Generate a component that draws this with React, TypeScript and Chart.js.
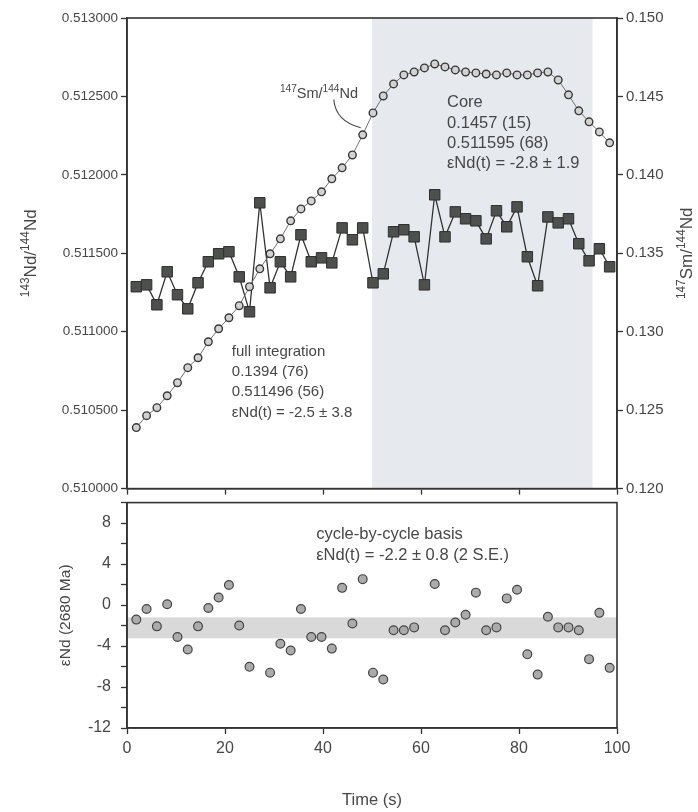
import React, { useEffect, useRef } from "react";
import { Chart, registerables } from "chart.js";

Chart.register(...registerables);

const FONT = '"Liberation Sans", Arial, Helvetica, sans-serif';
const TEXT = "#474747";
const AXIS = "#333333";

// ---- data ----
const TIME_S = [1.9, 4.0, 6.1, 8.2, 10.3, 12.4, 14.5, 16.6, 18.7, 20.8, 22.9, 25.0, 27.1, 29.2, 31.3, 33.4, 35.5, 37.6, 39.7, 41.8, 43.9, 46.0, 48.1, 50.2, 52.3, 54.4, 56.5, 58.6, 60.7, 62.8, 64.9, 67.0, 69.1, 71.2, 73.3, 75.4, 77.5, 79.6, 81.7, 83.8, 85.9, 88.0, 90.1, 92.2, 94.3, 96.4, 98.5];

const ND_143_144 = [0.511287, 0.511299, 0.511172, 0.511382, 0.511236, 0.511146, 0.511312, 0.511446, 0.511497, 0.51151, 0.51135, 0.511127, 0.511822, 0.51128, 0.511446, 0.51135, 0.511618, 0.511446, 0.511471, 0.511439, 0.511662, 0.511586, 0.511662, 0.511312, 0.511369, 0.511637, 0.51165, 0.511605, 0.511299, 0.511873, 0.511605, 0.511764, 0.51172, 0.511707, 0.511592, 0.511771, 0.511669, 0.511796, 0.511478, 0.511293, 0.511732, 0.511694, 0.51172, 0.511561, 0.511452, 0.511529, 0.511414];

const SM_147_ND_144 = [0.12389, 0.12465, 0.12516, 0.12592, 0.12675, 0.12771, 0.12834, 0.12936, 0.13019, 0.13089, 0.13166, 0.13287, 0.13401, 0.13497, 0.13592, 0.13707, 0.13783, 0.13834, 0.13892, 0.13975, 0.14045, 0.14127, 0.14255, 0.14395, 0.14503, 0.1458, 0.14637, 0.14656, 0.14682, 0.14707, 0.14688, 0.14669, 0.14656, 0.1465, 0.14643, 0.14637, 0.1465, 0.14637, 0.14637, 0.1465, 0.14656, 0.14605, 0.1451, 0.14408, 0.14338, 0.14274, 0.14204];

const EPS_ND = [-1.42, -0.39, -2.08, 0.08, -3.12, -4.34, -2.08, -0.29, 0.74, 1.96, -1.99, -6.03, null, -6.6, -3.77, -4.43, -0.39, -3.12, -3.12, -4.25, 1.68, -1.8, 2.53, -6.6, -7.26, -2.46, -2.46, -2.18, null, 2.06, -2.46, -1.71, -0.95, 1.21, -2.46, -2.18, 0.65, 1.49, -4.81, -6.79, -1.14, -2.18, -2.18, -2.46, -5.28, -0.76, -6.13];

const ND_TICKS = [0.51, 0.5105, 0.511, 0.5115, 0.512, 0.5125, 0.513];
const SM_TICKS = [0.12, 0.125, 0.13, 0.135, 0.14, 0.145, 0.15];
const TIME_TICKS = [0, 20, 40, 60, 80, 100];
const EPS_TICKS = [-12, -10, -8, -6, -4, -2, 0, 2, 4, 6, 8, 10];
const EPS_LABELLED = [-12, -8, -4, 0, 4, 8];

const CORE_WINDOW = [50, 95];
const EPS_BAND = [-3.25, -1.2];

const CORE_LINES = ["Core", "0.1457 (15)", "0.511595 (68)", "εNd(t) = -2.8 ± 1.9"];
const FULL_LINES = ["full integration", "0.1394 (76)", "0.511496 (56)", "εNd(t) = -2.5 ± 3.8"];
const CYCLE_LINES = ["cycle-by-cycle basis", "εNd(t) = -2.2 ± 0.8 (2 S.E.)"];

// annotation anchors in data units
const CORE_ANCHOR = { t: 65.3, v: 0.51246 };
const FULL_ANCHOR = { t: 21.4, v: 0.510873 };
const CYCLE_ANCHOR = { t: 38.6, v: 6.9 };
const SM_LABEL_ANCHOR = { t: 31.2, v: 0.51252 };
const POINTER = { start: { t: 42.2, v: 0.51248 }, ctrl: { t: 42.6, v: 0.51234 }, end: { t: 47.7, v: 0.5123 } };

type Seg = { t: string; sup?: boolean };

function drawSegs(ctx: CanvasRenderingContext2D, segs: Seg[], x: number, y: number, size: number, align: "left" | "center") {
  const supSize = size * 0.7;
  const widths = segs.map((s) => {
    ctx.font = `${s.sup ? supSize : size}px ${FONT}`;
    return ctx.measureText(s.t).width;
  });
  const total = widths.reduce((a, b) => a + b, 0);
  let cx = align === "center" ? x - total / 2 : x;
  ctx.textAlign = "left";
  ctx.textBaseline = "alphabetic";
  segs.forEach((s, i) => {
    ctx.font = `${s.sup ? supSize : size}px ${FONT}`;
    ctx.fillText(s.t, cx, s.sup ? y - size * 0.4 : y);
    cx += widths[i];
  });
}

function drawLines(ctx: CanvasRenderingContext2D, lines: string[], x: number, yCenter: number, size: number, gap: number) {
  ctx.save();
  ctx.fillStyle = TEXT;
  ctx.font = `${size}px ${FONT}`;
  ctx.textAlign = "left";
  ctx.textBaseline = "middle";
  lines.forEach((l, i) => ctx.fillText(l, x, yCenter + i * gap));
  ctx.restore();
}

function fixedY(width: number) {
  return (s: any) => {
    s.width = width;
    s.paddingTop = 0;
    s.paddingBottom = 0;
  };
}
function fixedX(height: number) {
  return (s: any) => {
    s.height = height;
    s.paddingLeft = 0;
    s.paddingRight = 0;
  };
}
function setTicks(arr: number[]) {
  return (s: any) => {
    s.ticks = arr.map((v) => ({ value: v }));
  };
}

const gridOpts = { drawOnChartArea: false, drawTicks: true, tickLength: 6, tickColor: AXIS, tickWidth: 1.3 };
const borderOpts = { display: true, color: AXIS, width: 1.6 };

function TopChart() {
  const ref = useRef<HTMLCanvasElement>(null);
  useEffect(() => {
    const decor = {
      id: "topDecor",
      beforeDraw(chart: any) {
        const { ctx, chartArea: a, scales } = chart;
        const x0 = scales.x.getPixelForValue(CORE_WINDOW[0]);
        const x1 = scales.x.getPixelForValue(CORE_WINDOW[1]);
        ctx.save();
        ctx.fillStyle = "#e6eaef";
        ctx.fillRect(x0, a.top, x1 - x0, a.bottom - a.top);
        ctx.restore();
      },
      afterDraw(chart: any) {
        const { ctx, chartArea: a, scales } = chart;
        const X = (t: number) => scales.x.getPixelForValue(t);
        const Y = (v: number) => scales.yNd.getPixelForValue(v);
        ctx.save();
        ctx.strokeStyle = AXIS;
        ctx.lineWidth = 1.6;
        ctx.strokeRect(a.left, a.top, a.right - a.left, a.bottom - a.top);
        ctx.fillStyle = TEXT;
        // axis titles
        ctx.save();
        ctx.translate(a.left - 97, (a.top + a.bottom) / 2);
        ctx.rotate(-Math.PI / 2);
        drawSegs(ctx, [{ t: "143", sup: true }, { t: "Nd/" }, { t: "144", sup: true }, { t: "Nd" }], 0, 6, 17, "center");
        ctx.restore();
        ctx.save();
        ctx.translate(a.right + 69, (a.top + a.bottom) / 2);
        ctx.rotate(-Math.PI / 2);
        drawSegs(ctx, [{ t: "147", sup: true }, { t: "Sm/" }, { t: "144", sup: true }, { t: "Nd" }], 0, 6, 17, "center");
        ctx.restore();
        // label and pointer
        drawSegs(ctx, [{ t: "147", sup: true }, { t: "Sm/" }, { t: "144", sup: true }, { t: "Nd" }], X(SM_LABEL_ANCHOR.t), Y(SM_LABEL_ANCHOR.v) + 5, 14.5, "left");
        ctx.beginPath();
        ctx.strokeStyle = "#444";
        ctx.lineWidth = 1.1;
        ctx.moveTo(X(POINTER.start.t), Y(POINTER.start.v));
        ctx.quadraticCurveTo(X(POINTER.ctrl.t), Y(POINTER.ctrl.v), X(POINTER.end.t), Y(POINTER.end.v));
        ctx.stroke();
        ctx.restore();
        drawLines(ctx, CORE_LINES, X(CORE_ANCHOR.t), Y(CORE_ANCHOR.v), 16.5, 20.3);
        drawLines(ctx, FULL_LINES, X(FULL_ANCHOR.t), Y(FULL_ANCHOR.v), 15, 20.3);
      },
    };
    const chart = new Chart(ref.current!, {
      type: "line",
      data: {
        datasets: [
          {
            label: "147Sm/144Nd",
            data: TIME_S.map((t, i) => ({ x: t, y: SM_147_ND_144[i] })),
            yAxisID: "ySm",
            borderColor: "#707070",
            borderWidth: 1,
            pointStyle: "circle",
            pointRadius: 3.8,
            pointBackgroundColor: "#d2d2d2",
            pointBorderColor: "#383838",
            pointBorderWidth: 1.4,
            order: 0,
          },
          {
            label: "143Nd/144Nd",
            data: TIME_S.map((t, i) => ({ x: t, y: ND_143_144[i] })),
            yAxisID: "yNd",
            borderColor: "#333",
            borderWidth: 1.3,
            pointStyle: "rect",
            pointRadius: 7.4,
            pointBackgroundColor: "#4d504d",
            pointBorderColor: "#2e2e2e",
            pointBorderWidth: 1,
            order: 1,
          },
        ],
      },
      options: {
        responsive: false,
        animation: false,
        events: [],
        layout: { padding: { top: 18, left: 0, right: 0, bottom: 0 } },
        plugins: { legend: { display: false }, tooltip: { enabled: false } },
        scales: {
          x: {
            type: "linear",
            min: 0,
            max: 100,
            afterBuildTicks: setTicks(TIME_TICKS),
            afterFit: fixedX(8),
            ticks: { display: false },
            grid: gridOpts,
            border: borderOpts,
          },
          yNd: {
            type: "linear",
            position: "left",
            min: 0.51,
            max: 0.513,
            afterBuildTicks: setTicks(ND_TICKS),
            afterFit: fixedY(127),
            ticks: { color: TEXT, font: { family: FONT, size: 13.5 }, padding: 3, callback: (v: any) => Number(v).toFixed(6) },
            grid: gridOpts,
            border: borderOpts,
          },
          ySm: {
            type: "linear",
            position: "right",
            min: 0.12,
            max: 0.15,
            afterBuildTicks: setTicks(SM_TICKS),
            afterFit: fixedY(81),
            ticks: { color: TEXT, font: { family: FONT, size: 15 }, padding: 3, callback: (v: any) => Number(v).toFixed(3) },
            grid: gridOpts,
            border: borderOpts,
          },
        },
      },
      plugins: [decor],
    } as any);
    return () => chart.destroy();
  }, []);
  return <canvas ref={ref} width={698} height={497} style={{ position: "absolute", left: 0, top: 0, width: 698, height: 497 }} />;
}

function BottomChart() {
  const ref = useRef<HTMLCanvasElement>(null);
  useEffect(() => {
    const decor = {
      id: "bottomDecor",
      beforeDraw(chart: any) {
        const { ctx, chartArea: a, scales } = chart;
        const y0 = scales.y.getPixelForValue(EPS_BAND[1]);
        const y1 = scales.y.getPixelForValue(EPS_BAND[0]);
        ctx.save();
        ctx.fillStyle = "#d9d9d9";
        ctx.fillRect(a.left, y0, a.right - a.left, y1 - y0);
        ctx.restore();
      },
      afterDraw(chart: any) {
        const { ctx, chartArea: a, scales } = chart;
        ctx.save();
        ctx.strokeStyle = AXIS;
        ctx.lineWidth = 1.6;
        ctx.strokeRect(a.left, a.top, a.right - a.left, a.bottom - a.top);
        ctx.fillStyle = TEXT;
        ctx.font = `16.5px ${FONT}`;
        ctx.textAlign = "center";
        ctx.textBaseline = "middle";
        ctx.fillText("Time (s)", (a.left + a.right) / 2, a.bottom + 72);
        ctx.translate(a.left - 61, (a.top + a.bottom) / 2);
        ctx.rotate(-Math.PI / 2);
        ctx.font = `15.5px ${FONT}`;
        ctx.fillText("εNd (2680 Ma)", 0, 0);
        ctx.restore();
        drawLines(ctx, CYCLE_LINES, scales.x.getPixelForValue(CYCLE_ANCHOR.t), scales.y.getPixelForValue(CYCLE_ANCHOR.v), 16.5, 21);
      },
    };
    const chart = new Chart(ref.current!, {
      type: "line",
      data: {
        datasets: [
          {
            label: "εNd",
            data: TIME_S.map((t, i) => ({ x: t, y: EPS_ND[i] })),
            showLine: false,
            pointStyle: "circle",
            pointRadius: 4.4,
            pointBackgroundColor: "#ababab",
            pointBorderColor: "#444",
            pointBorderWidth: 1.2,
          },
        ],
      },
      options: {
        responsive: false,
        animation: false,
        events: [],
        layout: { padding: { top: 3, left: 0, right: 81, bottom: 0 } },
        plugins: { legend: { display: false }, tooltip: { enabled: false } },
        scales: {
          x: {
            type: "linear",
            min: 0,
            max: 100,
            afterBuildTicks: setTicks(TIME_TICKS),
            afterFit: fixedX(84),
            ticks: { color: TEXT, font: { family: FONT, size: 16 }, padding: 5 },
            grid: gridOpts,
            border: borderOpts,
          },
          y: {
            type: "linear",
            min: -12,
            max: 10,
            afterBuildTicks: setTicks(EPS_TICKS),
            afterFit: fixedY(127),
            ticks: {
              color: TEXT,
              font: { family: FONT, size: 16 },
              padding: 10,
              autoSkip: false,
              callback: (v: any) => (EPS_LABELLED.includes(Number(v)) ? String(v) : ""),
            },
            grid: gridOpts,
            border: borderOpts,
          },
        },
      },
      plugins: [decor],
    } as any);
    return () => chart.destroy();
  }, []);
  return <canvas ref={ref} width={698} height={315} style={{ position: "absolute", left: 0, top: 497, width: 698, height: 315 }} />;
}

export default function App() {
  return (
    <div style={{ position: "absolute", left: 0, top: 0, width: 698, height: 812, background: "#ffffff", overflow: "hidden" }}>
      <TopChart />
      <BottomChart />
    </div>
  );
}
